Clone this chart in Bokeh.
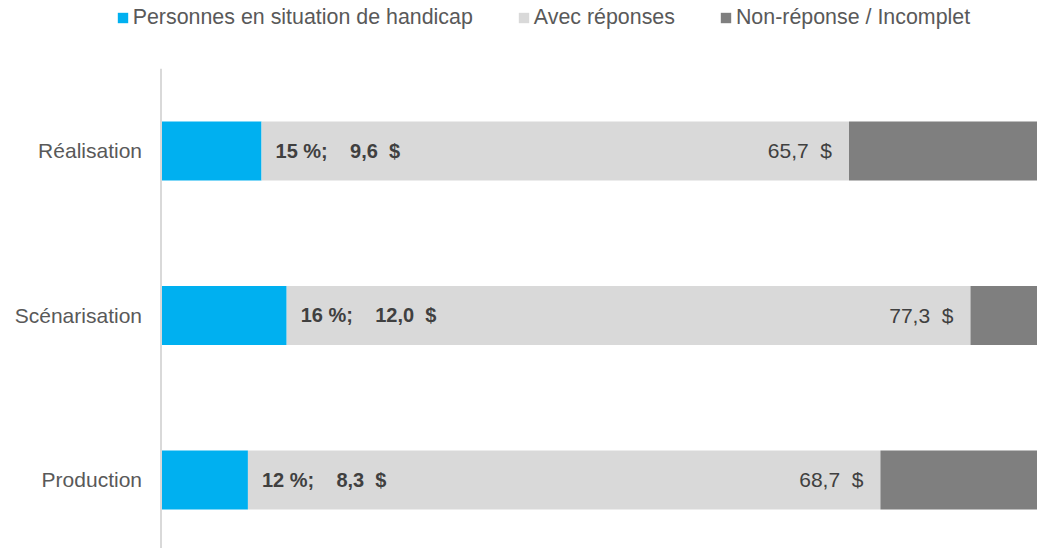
from bokeh.plotting import figure
from bokeh.models import ColumnDataSource, Range1d, Legend, LegendItem, FixedTicker
from bokeh.embed import file_html
from bokeh.resources import INLINE
from bokeh.core.properties import value

# ---- data ----
categories = ["Réalisation", "Scénarisation", "Production"]
handicap = [9.6, 12.0, 8.3]            # Personnes en situation de handicap ($)
avec_total = [65.7, 77.3, 68.7]        # Avec réponses (total, $)
pct_handicap = [15, 16, 12]            # % handicap
non_reponse = [18.8, 7.2, 15.8]        # Non-réponse / Incomplet ($)

series_names = ["Personnes en situation de handicap", "Avec réponses", "Non-réponse / Incomplet"]
colors = ["#00B0F0", "#D9D9D9", "#7F7F7F"]

FONT = "Liberation Sans"
NB = "\u00a0"


def fr(v):
    return f"{v:.1f}".replace(".", ",")


n = len(categories)
ypos = [n - i for i in range(n)]
avec_rest = [a - h for a, h in zip(avec_total, handicap)]
inner = [f"{p}{NB}%;{NB * 4}{fr(h)}{NB * 2}$" for p, h in zip(pct_handicap, handicap)]
outer = [f"{fr(a)}{NB * 2}$" for a in avec_total]

src = ColumnDataSource(dict(
    y=ypos, cat=categories, handicap=handicap, avec=avec_rest,
    nonrep=non_reponse, avec_total=avec_total, inner=inner, outer=outer,
))

p = figure(
    width=1037, height=548, output_backend="svg", toolbar_location=None,
    x_range=Range1d(-15.327, 83.70), y_range=Range1d(0.58358, 3.91489),
    x_axis_location=None,
    min_border_left=0, min_border_right=0, min_border_top=0, min_border_bottom=0,
    outline_line_color=None,
)

rs = p.hbar_stack(["handicap", "avec", "nonrep"], y="y", height=0.36,
                  fill_color=colors, line_color=None, source=src)

# value axis line (spans the category bands)
p.segment(x0=[0], y0=[n + 0.5], x1=[0], y1=[0.5], line_color="#D9D9D9", line_width=2)

p.text(x="handicap", y="y", text="inner", source=src, x_offset=14,
       text_align="left", text_baseline="middle",
       text_font=value(FONT), text_font_style="bold", text_font_size="20px",
       text_color="#404040")
p.text(x="avec_total", y="y", text="outer", source=src, x_offset=-17,
       text_align="right", text_baseline="middle",
       text_font=value(FONT), text_font_size="21px", text_color="#404040")

ax = p.yaxis[0]
ax.fixed_location = 0
ax.ticker = FixedTicker(ticks=ypos)
ax.major_label_overrides = {y: c for y, c in zip(ypos, categories)}
ax.axis_line_color = None
ax.major_tick_line_color = None
ax.minor_tick_line_color = None
ax.major_tick_out = 0
ax.major_tick_in = 0
ax.major_label_standoff = 19
ax.major_label_text_font = FONT
ax.major_label_text_font_size = "21px"
ax.major_label_text_color = "#595959"

p.xgrid.visible = False
p.ygrid.visible = False

legend = Legend(
    items=[LegendItem(label=name, renderers=[r]) for name, r in zip(series_names, rs)],
    orientation="horizontal", location=(115.7, 518),
    glyph_width=13, glyph_height=13, label_standoff=4, spacing=44,
    label_height=24, padding=0, margin=0,
    border_line_color=None, background_fill_alpha=0,
    label_text_font=FONT, label_text_font_size="21.4px", label_text_color="#595959",
)
p.add_layout(legend, "center")

open("out.html", "w").write(file_html(p, INLINE))
